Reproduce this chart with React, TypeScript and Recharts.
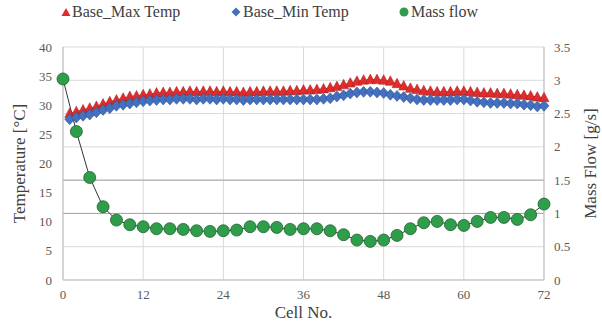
import React from 'react';
import { ComposedChart, Line, XAxis, YAxis, CartesianGrid, ReferenceLine } from 'recharts';

// cell numbers on the x axis
const cellTicks = [0, 12, 24, 36, 48, 60, 72];
const tempTicks = [0, 5, 10, 15, 20, 25, 30, 35, 40];
const flowTicks = [0, 0.5, 1, 1.5, 2, 2.5, 3, 3.5];

// temperatures are logged for cells 1..72
const tempCells = Array.from({ length: 72 }, (_, i) => i + 1);

const baseMaxTemp = [
  28.6, 28.9, 29.2, 29.5, 29.8, 30.2, 30.6, 30.9, 31.2, 31.5, 31.6, 31.8, 31.9, 32.1, 32.2, 32.2, 32.3,
  32.3, 32.4, 32.3, 32.4, 32.4, 32.3, 32.4, 32.3, 32.3, 32.2, 32.3, 32.3, 32.4, 32.4, 32.4, 32.4, 32.5, 32.5,
  32.6, 32.6, 32.7, 32.8, 33.0, 33.2, 33.5, 33.8, 34.1, 34.3, 34.4, 34.4, 34.3, 34.1, 33.7, 33.3, 32.9, 32.7, 32.5,
  32.4, 32.3, 32.3, 32.3, 32.4, 32.4, 32.3, 32.2, 32.1, 32.1, 32.0, 32.0, 31.9, 31.8, 31.7, 31.6, 31.4, 31.3,
];

const baseMinTemp = [
  27.6, 27.9, 28.2, 28.4, 28.8, 29.2, 29.5, 29.9, 30.1, 30.3, 30.5, 30.7, 30.8, 30.9, 31.0, 31.0, 31.1,
  31.1, 31.1, 31.0, 31.1, 31.1, 31.0, 31.1, 31.0, 31.0, 30.9, 31.0, 31.0, 31.0, 31.0, 31.0, 31.0, 31.0, 31.0,
  31.0, 31.0, 31.0, 31.1, 31.2, 31.5, 31.7, 32.0, 32.2, 32.3, 32.3, 32.2, 32.1, 31.8, 31.6, 31.4, 31.2, 31.0, 30.9,
  30.9, 30.9, 30.9, 30.9, 31.0, 31.0, 30.8, 30.6, 30.5, 30.4, 30.4, 30.4, 30.3, 30.3, 30.1, 30.0, 29.8, 29.9,
];

// mass flow is logged every second cell
const flowCells = [
  0, 2, 4, 6, 8, 10, 12, 14, 16, 18, 20, 22, 24, 26, 28, 30, 32, 34, 36,
  38, 40, 42, 44, 46, 48, 50, 52, 54, 56, 58, 60, 62, 64, 66, 68, 70, 72,
];
const massFlow = [
  3.02, 2.23, 1.54, 1.10, 0.90, 0.83, 0.80, 0.77, 0.77, 0.76, 0.74, 0.73, 0.74, 0.75, 0.80, 0.80, 0.79, 0.76, 0.77,
  0.77, 0.74, 0.68, 0.60, 0.58, 0.60, 0.67, 0.77, 0.86, 0.88, 0.83, 0.82, 0.88, 0.94, 0.94, 0.91, 0.98, 1.14,
];

const RED = '#E22B2B';
const BLUE = '#4470C0';
const GREEN = '#2E9E4A';
const FONT = '"Liberation Serif", "Times New Roman", serif';
const TEXT = '#404040';

type Row = { cell: number; maxTemp?: number | null; minTemp?: number | null; flow?: number | null };

const rows: Row[] = [];
for (let c = 0; c <= 72; c++) rows.push({ cell: c, maxTemp: null, minTemp: null, flow: null });
tempCells.forEach((c, i) => {
  rows[c].maxTemp = baseMaxTemp[i];
  rows[c].minTemp = baseMinTemp[i];
});
flowCells.forEach((c, i) => {
  rows[c].flow = massFlow[i];
});

const TriangleDot = (props: any) => {
  const { cx, cy, index } = props;
  if (cx == null || cy == null || props.value == null) return <g key={`t${index}`} />;
  return (
    <path
      key={`t${index}`}
      d={`M${cx},${cy - 5.5} L${cx + 5},${cy + 4} L${cx - 5},${cy + 4} Z`}
      fill={RED}
      stroke="#a02020"
      strokeWidth={0.5}
    />
  );
};

const DiamondDot = (props: any) => {
  const { cx, cy, index } = props;
  if (cx == null || cy == null || props.value == null) return <g key={`d${index}`} />;
  return (
    <path
      key={`d${index}`}
      d={`M${cx},${cy - 5.5} L${cx + 5},${cy} L${cx},${cy + 5.5} L${cx - 5},${cy} Z`}
      fill={BLUE}
      stroke="#2c4a82"
      strokeWidth={0.5}
    />
  );
};

const CircleDot = (props: any) => {
  const { cx, cy, index } = props;
  if (cx == null || cy == null || props.value == null) return <g key={`c${index}`} />;
  return <circle key={`c${index}`} cx={cx} cy={cy} r={6} fill={GREEN} stroke="#1f5f30" strokeWidth={0.8} />;
};

const LegendRow = () => (
  <div
    style={{
      position: 'absolute',
      top: 3,
      left: 0,
      width: 602,
      height: 20,
      fontFamily: FONT,
      fontSize: 16,
      color: TEXT,
    }}
  >
    <div style={{ position: 'absolute', left: 61, top: 0, display: 'flex', alignItems: 'center' }}>
      <svg width={10} height={10}>
        <path d="M5,1 L9.5,9 L0.5,9 Z" fill={RED} />
      </svg>
      <span style={{ marginLeft: 1, fontFamily: FONT }}>Base_Max Temp</span>
    </div>
    <div style={{ position: 'absolute', left: 231, top: 0, display: 'flex', alignItems: 'center' }}>
      <svg width={10} height={10}>
        <path d="M5,0.5 L9.5,5 L5,9.5 L0.5,5 Z" fill={BLUE} />
      </svg>
      <span style={{ marginLeft: 2, fontFamily: FONT }}>Base_Min Temp</span>
    </div>
    <div style={{ position: 'absolute', left: 399, top: 0, display: 'flex', alignItems: 'center' }}>
      <svg width={10} height={10}>
        <circle cx={5} cy={5} r={4.5} fill={GREEN} />
      </svg>
      <span style={{ marginLeft: 2, fontFamily: FONT }}>Mass flow</span>
    </div>
  </div>
);

export default function App() {
  const tick = { fontSize: 13, fill: '#595959', fontFamily: FONT };
  return (
    <div style={{ position: 'absolute', left: 0, top: 0, width: 602, height: 327, background: '#fff' }}>
      <LegendRow />
      <ComposedChart
        width={602}
        height={327}
        data={rows}
        margin={{ top: 47, right: 8, bottom: 7, left: 8 }}
        style={{ fontFamily: FONT }}
      >
        <CartesianGrid stroke="#d9d9d9" yAxisId="right" />
        <XAxis
          dataKey="cell"
          type="number"
          domain={[0, 72]}
          ticks={cellTicks}
          tick={tick}
          tickLine={false}
          tickSize={0}
          tickMargin={10}
          axisLine={{ stroke: '#bfbfbf' }}
          height={40}
          label={{ value: 'Cell No.', position: 'insideBottom', offset: 2, fill: TEXT, fontSize: 17, fontFamily: FONT }}
        />
        <YAxis
          yAxisId="left"
          domain={[0, 40]}
          ticks={tempTicks}
          tick={tick}
          tickLine={false}
          tickSize={0}
          tickMargin={11}
          axisLine={{ stroke: '#bfbfbf' }}
          width={55}
          label={{
            value: 'Temperature [°C]',
            angle: -90,
            position: 'insideLeft',
            offset: 11,
            style: { textAnchor: 'middle', fill: TEXT, fontSize: 17, fontFamily: FONT },
          }}
        />
        <YAxis
          yAxisId="right"
          orientation="right"
          domain={[0, 3.5]}
          ticks={flowTicks}
          tick={tick}
          tickLine={false}
          tickSize={0}
          tickMargin={10}
          axisLine={{ stroke: '#bfbfbf' }}
          width={50}
          label={{
            value: 'Mass Flow [g/s]',
            angle: -90,
            position: 'insideRight',
            offset: 4,
            style: { textAnchor: 'middle', fill: TEXT, fontSize: 17, fontFamily: FONT },
          }}
        />
        <ReferenceLine yAxisId="right" y={1} stroke="#a6a6a6" />
        <ReferenceLine yAxisId="right" y={1.5} stroke="#a6a6a6" />
        <Line
          yAxisId="left"
          dataKey="maxTemp"
          stroke={RED}
          strokeWidth={1}
          connectNulls
          dot={TriangleDot}
          activeDot={false}
          isAnimationActive={false}
        />
        <Line
          yAxisId="left"
          dataKey="minTemp"
          stroke={BLUE}
          strokeWidth={1}
          connectNulls
          dot={DiamondDot}
          activeDot={false}
          isAnimationActive={false}
        />
        <Line
          yAxisId="right"
          dataKey="flow"
          stroke="#333"
          strokeWidth={1}
          connectNulls
          dot={CircleDot}
          activeDot={false}
          isAnimationActive={false}
        />
      </ComposedChart>
    </div>
  );
}
